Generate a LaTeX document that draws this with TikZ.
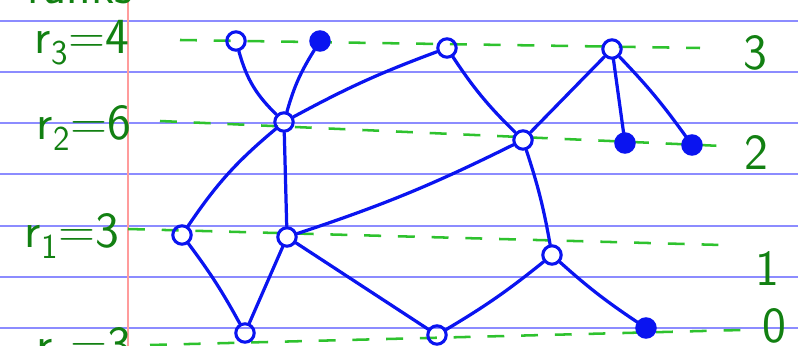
\documentclass[tikz,border=0pt]{standalone}
\usepackage{xcolor}
\usepackage{tikz}
\usetikzlibrary{arrows.meta, positioning, calc, backgrounds}
\definecolor{cpen}{HTML}{0A14F0}
\definecolor{crule}{HTML}{8C8CFF}
\definecolor{cmargin}{HTML}{FF9C9C}
\definecolor{cink}{HTML}{128012}
\definecolor{cguide}{HTML}{2EC22E}

\begin{document}
\begin{tikzpicture}[
    x=0.025cm, y=-0.025cm,
    font=\sffamily,
    vtx/.style={circle, draw=cpen, line width=2.2pt, inner sep=0pt, minimum size=0.46cm},
    vtxf/.style={vtx, fill=cpen},
    lbl/.style={text=cink, font=\sffamily\fontsize{36}{36}\selectfont},
    guide/.style={cguide, line width=1.8pt, dash pattern=on 12pt off 12pt}
]
\useasboundingbox (0,0) rectangle (798,346);

% Paper
\foreach \yy in {21, 72, 123, 174, 226, 277, 328}
    \draw[crule, line width=1.2pt] (0,\yy) -- (798,\yy);
\draw[cmargin, line width=1.4pt] (128,0) -- (128,346);

% Guide lines
\coordinate (g3a) at (180,40);  \coordinate (g3b) at (700,48);
\coordinate (g2a) at (160,121); \coordinate (g2b) at (722,146);
\coordinate (g1a) at (128,229); \coordinate (g1b) at (722,245);
\coordinate (g0a) at (150,345); \coordinate (g0b) at (742,330);
\draw[guide] (g3a) -- (g3b);
\draw[guide] (g2a) -- (g2b);
\draw[guide] (g1a) -- (g1b);
\draw[guide] (g0a) -- (g0b);

% Labels
\node[lbl] (top) at (80,-14) {ranks};
\node[lbl] (r3) at (82,42) {r$_{\mathsf{3}}$=4};
\node[lbl] (r2) at (84,128) {r$_{\mathsf{2}}$=6};
\node[lbl] (r1) at (72,236) {r$_{\mathsf{1}}$=3};
\node[lbl] (r0) at (84,350) {r$_{\mathsf{0}}$=3};
\node[lbl] (n3) at (755,53) {3};
\node[lbl] (n2) at (756,152) {2};
\node[lbl] (n1) at (767,268) {1};
\node[lbl] (n0) at (774,326) {0};

% Level 3
\node[vtx]  (a3) at (236,41) {};
\node[vtxf] (b3) at (320,41) {};
\node[vtx]  (c3) at (447,48) {};
\node[vtx]  (d3) at (612,49) {};

% Level 2
\node[vtx]  (e2) at (284,122) {};
\node[vtx]  (f2) at (523,140) {};
\node[vtxf] (g2) at (625,143) {};
\node[vtxf] (h2) at (692,145) {};

% Level 1
\node[vtx] (i1) at (182,235) {};
\node[vtx] (j1) at (287,237) {};
\node[vtx] (k1) at (552,255) {};

% Level 0
\node[vtx]  (l0) at (245,333) {};
\node[vtx]  (m0) at (437,335) {};
\node[vtxf] (n0b) at (646,328) {};

% Edges
\begin{scope}[every path/.style={cpen, line width=2.3pt, line cap=round}]
    \draw (a3) to[bend right=15] (e2);
    \draw (b3) to[bend right=8] (e2);
    \draw (e2) to[bend left=4] (c3);
    \draw (c3) to[bend right=6] (f2);
    \draw (f2) -- (d3);
    \draw (d3) -- (g2);
    \draw (d3) to[bend left=4] (h2);

    \draw (e2) to[bend right=8] (i1);
    \draw (e2) -- (j1);
    \draw (j1) to[bend right=4] (f2);
    \draw (f2) to[bend left=4] (k1);

    \draw (i1) to[bend left=4] (l0);
    \draw (j1) -- (l0);
    \draw (j1) -- (m0);
    \draw (m0) to[bend right=4] (k1);
    \draw (k1) to[bend right=4] (n0b);
\end{scope}

\end{tikzpicture}
\end{document}
